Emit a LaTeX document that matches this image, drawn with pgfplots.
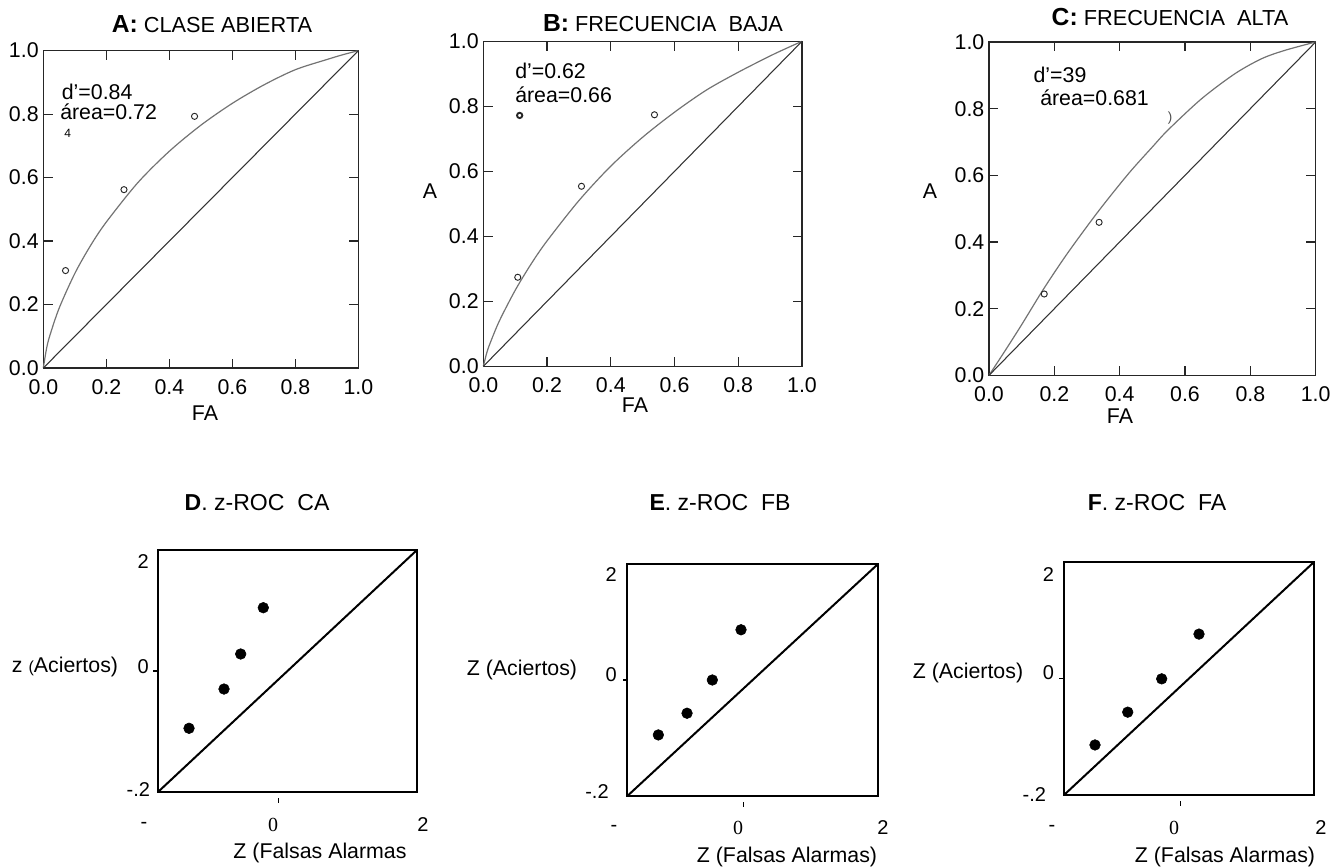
\documentclass[border=0pt]{standalone}
\usepackage{fontspec}
\setmainfont{Liberation Sans}
\newfontfamily\serif{Liberation Serif}
\usepackage{pgfplots}
\pgfplotsset{compat=1.18}

\newcommand{\fs}[1]{\fontsize{#1}{#1}\selectfont}

\pgfplotsset{
  roc/.style={
    scale only axis, anchor=south west, clip=false,
    xmin=0, xmax=1, ymin=0, ymax=1,
    xtick={0,0.2,0.4,0.6,0.8,1}, ytick={0,0.2,0.4,0.6,0.8,1},
    xticklabels={0.0,0.2,0.4,0.6,0.8,1.0},
    yticklabels={0.0,0.2,0.4,0.6,0.8,1.0},
    tick pos=both, tick align=inside, major tick length=7pt,
    axis line style={black!85, line width=0.9pt},
    tick style={black!85, line width=0.9pt},
    tick label style={font=\fs{16}},
    xticklabel style={yshift=-5pt},
  },
  zroc/.style={
    scale only axis, anchor=south west, clip=false,
    xmin=-2, xmax=2.3, ymin=-2, ymax=2,
    xtick=\empty, ytick=\empty,
    axis line style={black, line width=1.5pt},
  },
  curve/.style={black!55, line width=0.9pt, smooth},
  diag/.style={black!80, line width=0.8pt},
  pts/.style={only marks, mark=o, mark size=2.3pt, black!85, mark options={line width=0.7pt}},
  dots/.style={only marks, mark=*, mark size=4pt, black},
}

\begin{document}
\begin{tikzpicture}
\path[use as bounding box] (0,0) rectangle (1005.75pt,650.25pt);

% ---------- A ----------
\begin{axis}[roc, at={(32.5pt,374.25pt)}, width=236.25pt, height=238pt]
\addplot[curve] coordinates {
 (0,0) (0.01,0.06) (0.02,0.10) (0.05,0.188) (0.1,0.298) (0.15,0.386)
 (0.2,0.46) (0.3,0.584) (0.4,0.683) (0.5,0.765) (0.6,0.834) (0.7,0.892)
 (0.8,0.94) (0.9,0.972) (0.95,0.987) (1,1)};
\addplot[diag] coordinates {(0,0) (1,1)};
\addplot[pts] coordinates {(0.0705,0.307) (0.256,0.562) (0.48,0.793)};
\end{axis}

% ---------- B ----------
\begin{axis}[roc, at={(362.5pt,375.5pt)}, width=239pt, height=243.75pt]
\addplot[curve] coordinates {
 (0,0) (0.01,0.039) (0.02,0.068) (0.05,0.139) (0.1,0.234) (0.15,0.315)
 (0.2,0.386) (0.3,0.51) (0.4,0.616) (0.5,0.705) (0.6,0.782) (0.7,0.85)
 (0.8,0.905) (0.9,0.955) (0.95,0.978) (1,1)};
\addplot[diag] coordinates {(0,0) (1,1)};
\addplot[pts] coordinates {(0.108,0.274) (0.308,0.554) (0.537,0.774)};
\addplot[pts, mark options={line width=1.4pt}, mark size=2pt] coordinates {(0.114,0.772)};
\end{axis}

% ---------- C ----------
\begin{axis}[roc, at={(741.75pt,368.75pt)}, width=245pt, height=250pt]
\addplot[curve] coordinates {
 (0,0) (0.05,0.075) (0.1,0.152) (0.169,0.262) (0.243,0.37) (0.337,0.495)
 (0.427,0.605) (0.5,0.685) (0.549,0.737) (0.651,0.83) (0.753,0.905)
 (0.835,0.95) (0.906,0.975) (1,1)};
\addplot[diag] coordinates {(0,0) (1,1)};
\addplot[pts] coordinates {(0.169,0.244) (0.337,0.459)};
\node[black!70, font=\fs{10}] at (axis cs:0.554,0.772) {)};
\end{axis}

% ---------- D ----------
\begin{axis}[zroc, at={(118.5pt,56.25pt)}, width=194.25pt, height=181.5pt]
\addplot[black, line width=1.5pt] coordinates {(-2,-2) (2.3,2)};
\addplot[dots] coordinates {(-1.485,-0.947) (-0.904,-0.298) (-0.627,0.281) (-0.252,1.046)};
\end{axis}

% ---------- E ----------
\begin{axis}[zroc, at={(470.5pt,53.25pt)}, width=188pt, height=174pt]
\addplot[black, line width=1.5pt] coordinates {(-2,-2) (2.3,2)};
\addplot[dots] coordinates {(-1.468,-0.947) (-0.976,-0.573) (-0.542,0.0) (-0.05,0.866)};
\end{axis}

% ---------- F ----------
\begin{axis}[zroc, at={(798pt,54pt)}, width=187.5pt, height=174.75pt]
\addplot[black, line width=1.5pt] coordinates {(-2,-2) (2.3,2)};
\addplot[dots] coordinates {(-1.467,-1.141) (-0.904,-0.578) (-0.32,-0.006) (0.322,0.762)};
\end{axis}

% small ticks at 0 of the z-ROC panels
\draw[line width=0.8pt] (118.5pt,147pt) -- (115pt,147pt);
\draw[line width=0.6pt] (208.9pt,51.5pt) -- (208.9pt,48pt);
\draw[line width=0.8pt] (470.5pt,140.25pt) -- (467pt,140.25pt);
\draw[line width=0.6pt] (557.9pt,48.5pt) -- (557.9pt,45pt);
\draw[line width=0.8pt] (798pt,141.4pt) -- (794.5pt,141.4pt);
\draw[line width=0.6pt] (885.2pt,49.5pt) -- (885.2pt,46pt);

% ---------- titles and labels, top row ----------
\node at (159pt,632.25pt) {\fs{18.5}\bfseries A:\mdseries\fs{16.3} CLASE ABIERTA};
\node at (497.25pt,633pt) {\fs{18.5}\bfseries B:\mdseries\fs{16.3} FRECUENCIA\ \ BAJA};
\node at (877.5pt,637.5pt) {\fs{18.5}\bfseries C:\mdseries\fs{16.3} FRECUENCIA\ \ ALTA};

\node[anchor=west, inner sep=0pt, font=\fs{16}] at (46.2pt,581.5pt) {d'=0.84};
\node[anchor=west, inner sep=0pt, font=\fs{16}] at (45pt,566.5pt) {área=0.72};
\node[anchor=west, inner sep=0pt, font=\fs{9}] at (48pt,550pt) {4};
\node[anchor=west, inner sep=0pt, font=\fs{16}] at (386.25pt,597pt) {d'=0.62};
\node[anchor=west, inner sep=0pt, font=\fs{16}] at (386.25pt,579pt) {área=0.66};
\node[anchor=west, inner sep=0pt, font=\fs{16}] at (775pt,594.25pt) {d'=39};
\node[anchor=west, inner sep=0pt, font=\fs{16}] at (780pt,576.75pt) {área=0.681};

\node[font=\fs{16}] at (153.75pt,340.5pt) {FA};
\node[font=\fs{16}] at (476.25pt,346.5pt) {FA};
\node[font=\fs{16}] at (840pt,338pt) {FA};
\node[font=\fs{16}] at (322.5pt,507pt) {A};
\node[font=\fs{16}] at (697.5pt,507pt) {A};

% ---------- titles and labels, bottom row ----------
\node at (192.75pt,273pt) {\fs{17.3}\bfseries D\mdseries. z-ROC\ \ CA};
\node at (540pt,273pt) {\fs{17.3}\bfseries E\mdseries. z-ROC\ \ FB};
\node at (867.75pt,273pt) {\fs{17.3}\bfseries F\mdseries. z-ROC\ \ FA};

\node[font=\fs{16}] at (48.75pt,150pt) {z {\fs{12}(}Aciertos)};
\node[font=\fs{16}] at (391.5pt,147.75pt) {Z (Aciertos)};
\node[font=\fs{16}] at (726pt,145.5pt) {Z (Aciertos)};

\node[font=\fs{16}] at (240pt,10.5pt) {Z (Falsas Alarmas};
\node[font=\fs{16}] at (590.25pt,7.5pt) {Z (Falsas Alarmas)};
\node[font=\fs{16}] at (918.75pt,7.5pt) {Z (Falsas Alarmas)};

% tick labels of the z-ROC panels
\begin{scope}[every node/.style={font=\fs{15}}]
% D
\node[anchor=east] at (115pt,228.75pt) {2};
\node[anchor=east] at (115pt,150pt) {0};
\node[anchor=east] at (116pt,57.75pt) {-.2};
\node at (108pt,31.5pt) {-};
\node at (204.75pt,31.5pt) {\serif 0};
\node at (317.25pt,31.5pt) {2};
% E
\node[anchor=east] at (466pt,219pt) {2};
\node[anchor=east] at (466pt,144pt) {0};
\node[anchor=east] at (460pt,56.25pt) {-.2};
\node at (460.5pt,29.25pt) {-};
\node at (553.5pt,29.25pt) {\serif 0};
\node at (662.25pt,29.25pt) {2};
% F
\node[anchor=east] at (794pt,219pt) {2};
\node[anchor=east] at (794pt,145.5pt) {0};
\node[anchor=east] at (788pt,54pt) {-.2};
\node at (789pt,29.25pt) {-};
\node at (880.5pt,29.25pt) {\serif 0};
\node at (990.75pt,29.25pt) {2};
\end{scope}
\end{tikzpicture}
\end{document}
